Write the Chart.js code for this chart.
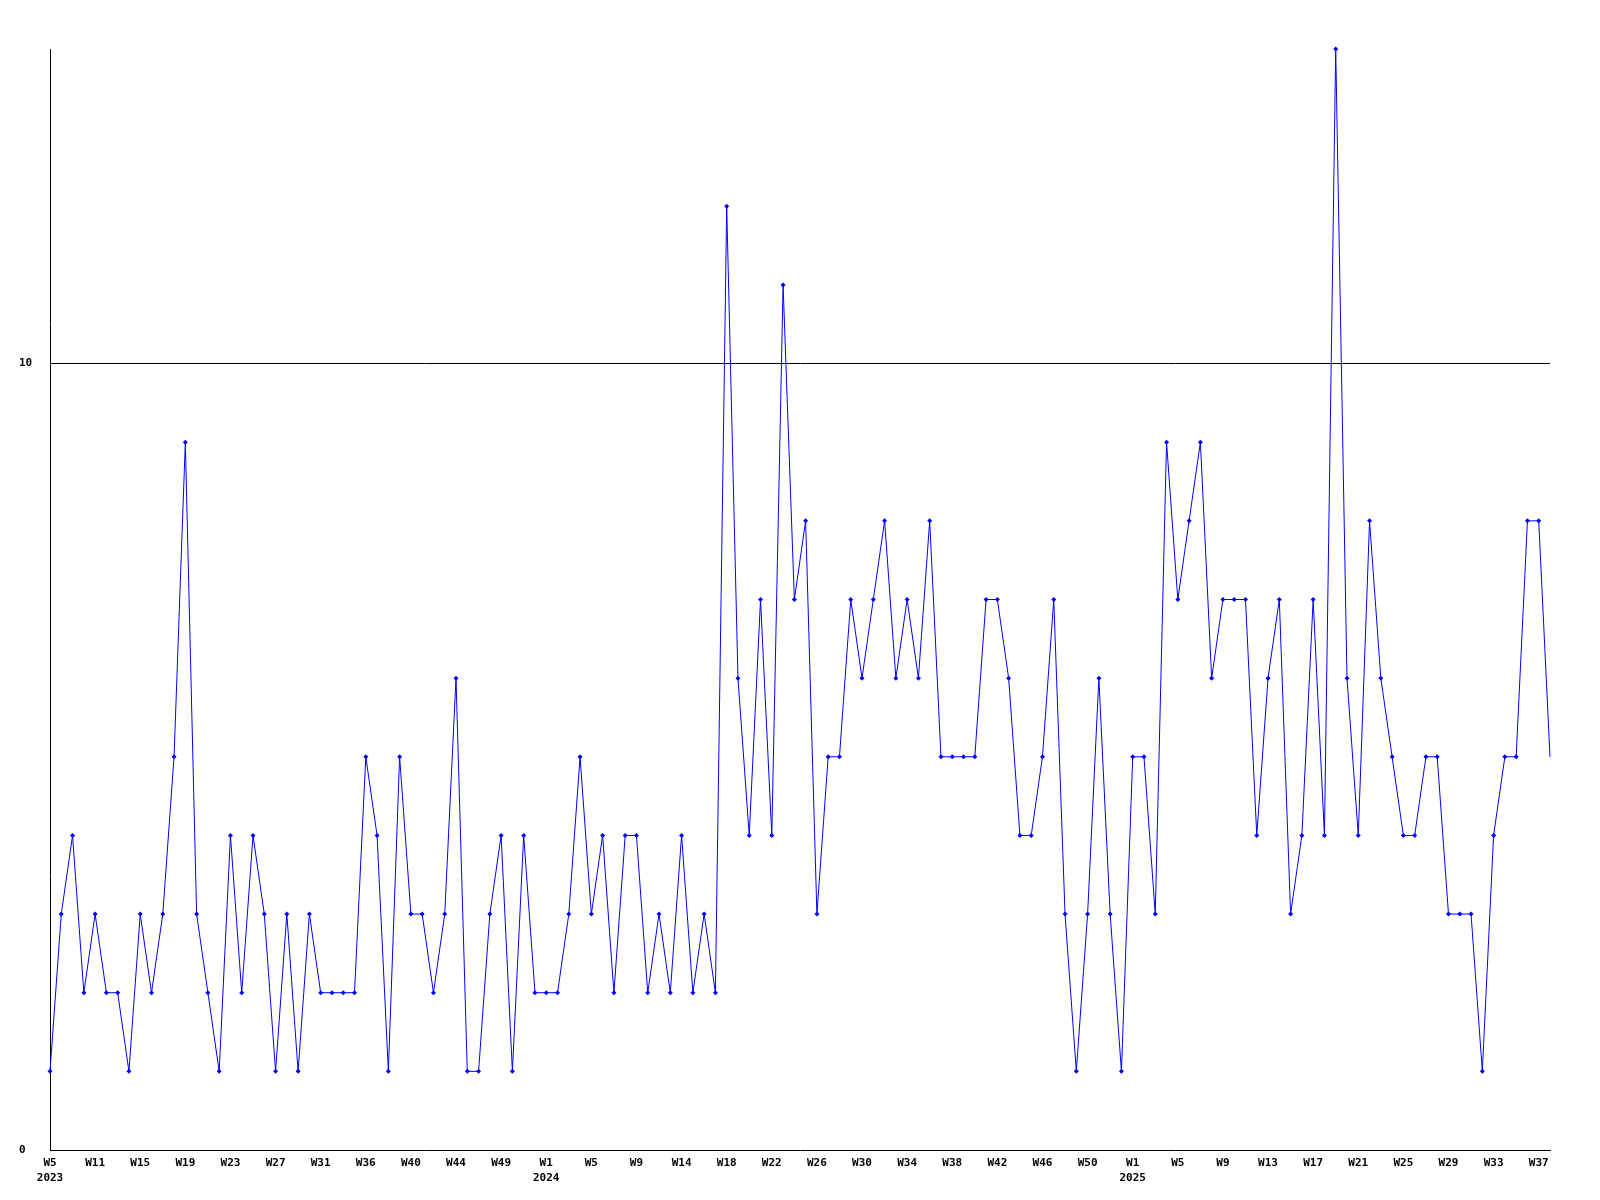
<!DOCTYPE html>
<html>
<head>
<meta charset="utf-8">
<script src="https://cdn.jsdelivr.net/npm/chart.js@4"></script>
<style>
  html, body { margin: 0; padding: 0; background: #fff; }
  canvas { display: block; }
</style>
</head>
<body>
<canvas id="weekChart" width="1600" height="1200"></canvas>
<script>
// semanas con datos (faltan algunas)
const weeks2023 = [5, 6, 7, 9, 11, 12, 13, 14, 15, 16, 17, 18, 19, 20, 21, 22, 23, 24, 25, 26, 27, 28,
    29, 30, 31, 32, 33, 35, 36, 37, 38, 39, 40, 41, 42, 43, 44, 45, 46, 48, 49, 50, 51, 52];
const weeks2024 = [1, 2, 3, 4, 5, 6, 7, 8, 9, 10, 11, 13, 14, 15, 16, 17, 18, 19, 20, 21, 22, 23, 24,
    25, 26, 27, 28, 29, 30, 31, 32, 33, 34, 35, 36, 37, 38, 39, 40, 41, 42, 43, 44, 45, 46, 47, 48,
    49, 50, 51, 52, 53];
const weeks2025 = [1, 2, 3, 4, 5, 6, 7, 8, 9, 10, 11, 12, 13, 14, 15, 16, 17, 18, 19, 20, 21, 22, 23,
    24, 25, 26, 27, 28, 29, 30, 31, 32, 33, 34, 35, 36, 37, 38];

// valores semanales
const values = [
    1, 3, 4, 2, 3, 2, 2, 1, 3, 2, 3, 5, 9, 3, 2, 1, 4, 2, 4, 3, 1, 3, 1, 3, 2, 2, 2, 2, 5, 4,
    1, 5, 3, 3, 2, 3, 6, 1, 1, 3, 4, 1, 4, 2,
    2, 2, 3, 5, 3, 4, 2, 4, 4, 2, 3, 2, 4, 2, 3, 2, 12, 6, 4, 7, 4, 11, 7, 8, 3, 5, 5, 7, 6, 7,
    8, 6, 7, 6, 8, 5, 5, 5, 5, 7, 7, 6, 4, 4, 5, 7, 3, 1, 3, 6, 3, 1,
    5, 5, 3, 9, 7, 8, 9, 6, 7, 7, 7, 4, 6, 7, 3, 4, 7, 4, 14, 6, 4, 8, 6, 5, 4, 4, 5, 5, 3, 3,
    3, 1, 4, 5, 5, 8, 8, 5
];

const yTicks = [0, 10];
const yMax = 14;
const labelEvery = 4;

// etiquetas: "Wn" y el año en la primera semana de cada año
const labels = [];
[[2023, weeks2023], [2024, weeks2024], [2025, weeks2025]].forEach(([year, weeks]) => {
    weeks.forEach((w, i) => {
        labels.push(i === 0 ? ['W' + w, String(year)] : 'W' + w);
    });
});

const font = { family: 'DejaVu Sans Mono', size: 11, weight: 'bold', lineHeight: 1.36 };

new Chart(document.getElementById('weekChart'), {
    type: 'line',
    data: {
        labels: labels,
        datasets: [{
            data: values,
            borderColor: '#0000ff',
            backgroundColor: '#0000ff',
            borderWidth: 1,
            pointStyle: 'rectRot',
            pointRadius: ctx => (ctx.dataIndex === values.length - 1 ? 0 : 2.5),
            pointBorderWidth: 0,
            tension: 0,
            clip: false
        }]
    },
    options: {
        responsive: false,
        animation: false,
        layout: { padding: { left: 19, right: 50, top: 49, bottom: 8 } },
        plugins: {
            legend: { display: false },
            tooltip: { enabled: false }
        },
        scales: {
            x: {
                offset: false,
                grid: { display: false, drawTicks: false },
                border: { color: '#000', width: 1 },
                afterFit: s => { s.height = 42; },
                ticks: {
                    autoSkip: false,
                    maxRotation: 0,
                    padding: 6,
                    color: '#000',
                    font: font,
                    callback: function (value, index) {
                        return index % labelEvery === 0 ? this.getLabelForValue(value) : null;
                    }
                }
            },
            y: {
                min: 0,
                max: yMax,
                afterBuildTicks: s => { s.ticks = yTicks.map(v => ({ value: v })); },
                afterFit: s => { s.width = 31; },
                grid: {
                    drawTicks: false,
                    color: ctx => (ctx.tick && ctx.tick.value === 10 ? '#000' : 'rgba(0,0,0,0)')
                },
                border: { color: '#000', width: 1 },
                ticks: {
                    crossAlign: 'far',
                    padding: 0,
                    color: '#000',
                    font: font
                }
            }
        }
    }
});
</script>
</body>
</html>
